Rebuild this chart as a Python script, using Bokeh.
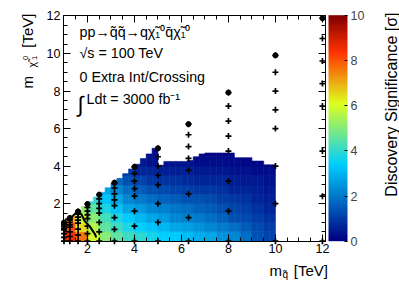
import numpy as np
from bokeh.plotting import figure
from bokeh.models import (ColumnDataSource, LinearColorMapper, ColorBar, LinearAxis,
                          FixedTicker, Label, Range1d)
from bokeh.transform import linear_cmap
from bokeh.embed import file_html
from bokeh.resources import INLINE

nan = float("nan")

# signal grid: squark masses [TeV] and neutralino/squark mass ratios
m_squark = [1.0, 1.25, 1.6, 2.0, 2.5, 3.15, 4.0, 5.0, 6.3, 8.0, 10.0, 12.0]
mass_ratio = [0.0, 0.2, 0.4, 0.6, 0.7, 0.8, 0.9]
top_ratio = 0.99

# significance map: 0.5 TeV cells (column / row centres)
cell_x = [1.25, 1.75, 2.25, 2.75, 3.25, 3.75, 4.25, 4.75, 5.25, 5.75, 6.25, 6.75,
          7.25, 7.75, 8.25, 8.75, 9.25, 9.75]
cell_y = [0.25, 0.75, 1.25, 1.75, 2.25, 2.75, 3.25, 3.75, 4.25, 4.75]
sig_y0p25 = [8.5, 7.6, 5.9, 5.0, 4.5, 4.1, 3.9, 3.6, 3.4, 3.3, 3.1, 2.9, 2.7, 2.4, 2.2, 1.8, 1.4, 1.1]
sig_y0p75 = [8.0, 6.4, 5.5, 4.6, 4.1, 3.7, 3.4, 3.2, 3.0, 2.8, 2.6, 2.4, 2.2, 2.0, 1.8, 1.5, 1.2, 1.0]
sig_y1p25 = [7.0, 5.8, 5.0, 4.2, 3.7, 3.3, 3.0, 2.7, 2.5, 2.3, 2.1, 2.0, 1.8, 1.6, 1.4, 1.2, 1.0, 0.8]
sig_y1p75 = [nan, 5.2, 4.5, 3.7, 3.2, 2.8, 2.5, 2.3, 2.1, 1.9, 1.8, 1.6, 1.5, 1.3, 1.1, 1.0, 0.8, 0.6]
sig_y2p25 = [nan, nan, 3.9, 3.2, 2.7, 2.3, 2.0, 1.8, 1.6, 1.5, 1.4, 1.3, 1.2, 1.0, 0.9, 0.8, 0.6, 0.5]
sig_y2p75 = [nan, nan, nan, 2.7, 2.2, 1.8, 1.5, 1.3, 1.2, 1.1, 1.0, 0.95, 0.9, 0.8, 0.7, 0.6, 0.5, 0.4]
sig_y3p25 = [nan, nan, nan, nan, 1.7, 1.3, 1.1, 0.9, 0.85, 0.8, 0.75, 0.7, 0.65, 0.6, 0.5, 0.45, 0.4, 0.3]
sig_y3p75 = [nan, nan, nan, nan, nan, 0.9, 0.7, 0.6, 0.55, 0.5, 0.5, 0.45, 0.4, 0.4, 0.35, 0.3, 0.25, 0.2]
sig_y4p25 = [nan, nan, nan, nan, nan, nan, 0.45, 0.35, 0.3, 0.3, 0.3, 0.25, 0.25, 0.2, 0.2, 0.15, 0.15, 0.1]
sig_y4p75 = [nan, nan, nan, nan, nan, nan, nan, 0.25, nan, nan, nan, 0.15, 0.15, 0.12, 0.1, nan, nan, nan]
sig_rows = [sig_y0p25, sig_y0p75, sig_y1p25, sig_y1p75, sig_y2p25,
            sig_y2p75, sig_y3p25, sig_y3p75, sig_y4p25, sig_y4p75]

# upper edge of the filled region, per 0.25 TeV column (left edges from 1.0 TeV)
edge_top = [1.1, 1.35, 1.6, 1.85, 2.1, 2.35, 2.6, 2.85, 3.1, 3.35, 3.6, 3.85, 4.1, 4.4, 4.65, 4.95,
            4.05, 4.25, 4.25, 4.25, 4.25, 4.3, 4.5, 4.65, 4.7, 4.7, 4.7, 4.7, 4.7, 4.45, 4.45, 4.45,
            4.27, 4.27, 4.07, 4.07]
edge_x = [1.0 + 0.25 * i for i in range(len(edge_top))]

# 5 sigma contour
contour_x = [1.05, 1.3, 1.58, 1.75, 1.87, 2.12, 2.33, 2.37]
contour_y = [1.15, 1.25, 1.6, 1.42, 1.1, 0.75, 0.35, 0.2]

# axes
x_major = [2, 4, 6, 8, 10, 12]
y_major = [2, 4, 6, 8, 10, 12]
x_minor = [1.0 + 0.5 * i for i in range(23) if (1.0 + 0.5 * i) not in x_major]
y_minor = [0.5 * i for i in range(25) if (0.5 * i) not in y_major]
cbar_ticks = [0, 2, 4, 6, 8, 10]

# ---- palette (ROOT-style 5-stop gradient) ----
stops = [0.0, 0.34, 0.61, 0.84, 1.0]
red = [0.0, 0.0, 0.87, 1.0, 0.51]
green = [0.0, 0.81, 1.0, 0.2, 0.0]
blue = [0.51, 1.0, 0.12, 0.0, 0.0]
tt = np.linspace(0, 1, 100)
palette = ["#%02x%02x%02x" % (int(round(255 * np.interp(t, stops, red))),
                              int(round(255 * np.interp(t, stops, green))),
                              int(round(255 * np.interp(t, stops, blue)))) for t in tt]
mapper = LinearColorMapper(palette=palette, low=0, high=10)

# ---- cells ----
L, R, B, T, V = [], [], [], [], []
ch = cell_y[1] - cell_y[0]
for k, xl in enumerate(edge_x):
    ci = min(range(len(cell_x)), key=lambda i: abs(cell_x[i] - (xl + 0.125)))
    for j, yc in enumerate(cell_y):
        yb = yc - ch / 2
        yt = min(yc + ch / 2, edge_top[k])
        v = sig_rows[j][ci]
        if yt <= yb or v != v:
            continue
        L.append(xl); R.append(xl + 0.25); B.append(yb); T.append(yt); V.append(v)
cells = ColumnDataSource(dict(left=L, right=R, bottom=B, top=T, v=V))

# ---- geometry: the whole canvas is the Bokeh frame, the drawn frame is made of axes ----
W, H = 399, 286
XV = (0.98, 12.13)          # visible x range of the drawn frame
YV = (0.0, 12.04)           # visible y range of the drawn frame
FX0, FX1 = 63.0, 325.0      # drawn frame, pixels
FY0, FY1 = 14.7, 240.7
kx = (FX1 - FX0) / (XV[1] - XV[0])
ky = (FY1 - FY0) / (YV[1] - YV[0])
x_range = Range1d(XV[0] - FX0 / kx, XV[1] + (W - FX1) / kx)
y_range = Range1d(YV[0] - (H - FY1) / ky, YV[1] + FY0 / ky)

def px2x(px):
    return XV[0] + (px - FX0) / kx

def py2y(py):
    return YV[0] + (FY1 - py) / ky

p = figure(width=W, height=H, x_range=x_range, y_range=y_range,
           min_border_left=0, min_border_right=0, min_border_top=0, min_border_bottom=0,
           x_axis_type=None, y_axis_type=None, output_backend="svg", toolbar_location=None)
p.outline_line_color = None
p.background_fill_color = "white"
p.border_fill_color = "white"

cmap = linear_cmap("v", palette, 0, 10)
p.quad(left="left", right="right", bottom="bottom", top="top", source=cells,
       fill_color=cmap, line_color=cmap, line_width=0.6)

p.line(contour_x, contour_y, line_color="black", line_width=2.0)

px_, py_ = [], []
for m in m_squark:
    for r in mass_ratio:
        px_.append(m); py_.append(r * m)
p.scatter(px_, py_, marker="cross", size=6, line_width=1.7, color="black")
p.scatter(m_squark, [top_ratio * m for m in m_squark], marker="circle", size=5, color="black")
p.scatter(m_squark, [top_ratio * m for m in m_squark], marker="cross", size=6, line_width=1.7,
          color="black")

FONT = "Liberation Sans"

def axis(loc, bounds, majors, minors, labels, major_len=7, minor_len=4):
    ax = LinearAxis(fixed_location=loc, bounds=bounds,
                    ticker=FixedTicker(ticks=majors, minor_ticks=minors))
    ax.major_tick_in = major_len
    ax.major_tick_out = 0
    ax.minor_tick_in = minor_len
    ax.minor_tick_out = 0
    ax.axis_line_color = "black"
    ax.major_tick_line_color = "black"
    ax.minor_tick_line_color = "black"
    ax.major_label_text_font = FONT
    ax.major_label_text_color = "black"
    ax.major_label_text_font_size = "12.5px"
    ax.major_label_standoff = 3 if labels else 0
    return ax

p.add_layout(axis(YV[0], XV, x_major, x_minor, True), "below")
p.add_layout(axis(XV[0], YV, y_major, y_minor, True), "left")
p.add_layout(axis(YV[1], XV, [], x_major, False, minor_len=7), "above")
p.add_layout(axis(YV[1], XV, [], x_minor, False, minor_len=4), "above")
p.add_layout(axis(XV[1], YV, [], y_major, False, minor_len=7), "right")
p.add_layout(axis(XV[1], YV, [], y_minor, False, minor_len=4), "right")

cb = ColorBar(color_mapper=mapper, width=19, height=int(round(FY1 - FY0)), padding=0,
              location=(328, H - FY1),
              ticker=FixedTicker(ticks=cbar_ticks), major_label_text_font=FONT,
              major_label_text_font_size="12.5px", label_standoff=3,
              major_tick_in=3, major_tick_out=0, major_tick_line_color="black",
              minor_tick_line_color=None, bar_line_color=None, border_line_color=None,
              background_fill_alpha=0)
p.add_layout(cb)

def lab(text, px, py, size, align="left", baseline="middle", angle=0.0):
    p.add_layout(Label(x=px2x(px), y=py2y(py), text=text, text_font=FONT,
                       text_font_size=size, text_align=align, text_baseline=baseline,
                       angle=angle, text_color="black"))

lab("pp\u2192q\u0303q\u0303\u2192q\u03c7\u0303\u2081\u2070q\u0304\u03c7\u0303\u2081\u2070", 79, 31, "14.3px")
lab("\u221as = 100 TeV", 79, 52, "14.3px")
lab("0 Extra Int/Crossing", 79, 76, "14.3px")
lab("\u222b", 77, 104, "22px", baseline="alphabetic")
lab("Ldt = 3000 fb\u207b\u00b9", 86, 98, "14.3px")

lab("m", 269, 270, "15px", baseline="alphabetic")
lab("q\u0303", 282, 273.5, "10px", baseline="alphabetic")
lab("[TeV]", 327.5, 270, "15px", align="right", baseline="alphabetic")

ang = np.pi / 2
lab("m", 27, 88, "15px", baseline="alphabetic", angle=ang)
lab("\u03c7\u0303", 31, 67, "10.5px", baseline="alphabetic", angle=ang)
lab("0", 24.5, 59.5, "7.5px", baseline="alphabetic", angle=ang)
lab("1", 33.5, 59.5, "7.5px", baseline="alphabetic", angle=ang)
lab("[TeV]", 27, 13, "15px", align="right", baseline="alphabetic", angle=ang)

lab("Discovery Significance [\u03c3]", 390.5, 12, "16px", align="right",
    baseline="alphabetic", angle=ang)

open("out.html", "w").write(file_html(p, INLINE))
